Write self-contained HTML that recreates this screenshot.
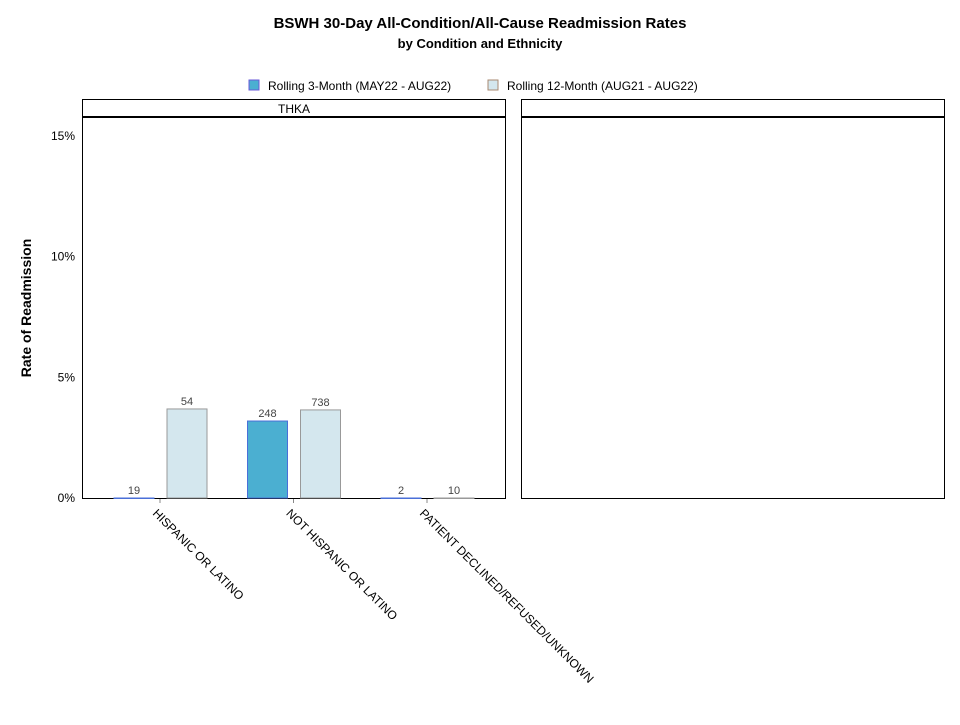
<!DOCTYPE html>
<html><head><meta charset="utf-8"><style>
body{margin:0;background:#fff;font-family:"Liberation Sans",sans-serif}
</style></head><body>
<svg width="960" height="720" viewBox="0 0 960 720" xmlns="http://www.w3.org/2000/svg" font-family="Liberation Sans, sans-serif">
<text x="480" y="28" text-anchor="middle" font-size="15" font-weight="bold">BSWH 30-Day All-Condition/All-Cause Readmission Rates</text>
<text x="480" y="48" text-anchor="middle" font-size="13" font-weight="bold">by Condition and Ethnicity</text>
<g font-size="12">
<rect x="249" y="80" width="10" height="10" fill="#4bafd1" stroke="#6a5ad8"/>
<text x="268" y="90">Rolling 3-Month  (MAY22 - AUG22)</text>
<rect x="488" y="80" width="10" height="10" fill="#d4e7ee" stroke="#a88a72"/>
<text x="507" y="90">Rolling 12-Month (AUG21 - AUG22)</text>
</g>
<text transform="translate(31,308) rotate(-90)" text-anchor="middle" font-size="14" font-weight="bold">Rate of Readmission</text>
<g>
<rect x="82.5" y="99.5" width="423" height="18" fill="#fff" stroke="#000"/>
<text x="294" y="113" text-anchor="middle" font-size="12">THKA</text>
<rect x="82.5" y="117" width="423" height="381.5" fill="none" stroke="#000"/>
<line x1="82" y1="117" x2="506" y2="117" stroke="#000" stroke-width="2"/>
</g>
<g>
<rect x="521.5" y="99.5" width="423" height="18" fill="#fff" stroke="#000"/>
<rect x="521.5" y="117" width="423" height="381.5" fill="none" stroke="#000"/>
<line x1="521" y1="117" x2="945" y2="117" stroke="#000" stroke-width="2"/>
</g>
<g id="ticks"></g>
<g id="bars"></g>
<g id="xlabels"></g>
</svg>
<script>
const categories=["HISPANIC OR LATINO","NOT HISPANIC OR LATINO","PATIENT DECLINED/REFUSED/UNKNOWN"];
const rate3=[0.0,3.19,0.0];
const rate12=[3.69,3.65,0.0];
const count3=["19","248","2"];
const count12=["54","738","10"];
const yTicks=[0,5,10,15];
const NS="http://www.w3.org/2000/svg";
const y0=498,pxPerPct=24.13;
function y(v){return y0-v*pxPerPct;}
function xc(i){return 160+i*133.5;}
function mk(t,a,p){const e=document.createElementNS(NS,t);for(const k in a)e.setAttribute(k,a[k]);p.appendChild(e);return e;}
const tg=document.getElementById('ticks'),bg=document.getElementById('bars'),xg=document.getElementById('xlabels');
yTicks.forEach(v=>{
 const t=mk('text',{x:75,y:y(v)+4,'text-anchor':'end','font-size':12},tg);t.textContent=v+'%';
 
 
});
categories.forEach((c,i)=>{
 const cx=xc(i);
 const b1=mk('rect',{x:cx-46,y:y(rate3[i]),width:40,height:Math.max(rate3[i]*pxPerPct,0.5),fill:'#4bafd1',stroke:'#4a6fd8'},bg);
 
 
 const l1=mk('text',{x:cx-26,y:y(rate3[i])-4,'text-anchor':'middle','font-size':11,fill:'#444'},bg);l1.textContent=count3[i];
 
 
 const b2=mk('rect',{x:cx+7,y:y(rate12[i]),width:40,height:Math.max(rate12[i]*pxPerPct,0.5),fill:'#d4e7ee',stroke:'#999'},bg);
 
 
 const l2=mk('text',{x:cx+27,y:y(rate12[i])-4,'text-anchor':'middle','font-size':11,fill:'#444'},bg);l2.textContent=count12[i];
 
 
 const tk=mk('line',{x1:cx,y1:499,x2:cx,y2:503,stroke:'#888'},xg);
 
 
 const xl=mk('text',{transform:`translate(${cx-8},${514}) rotate(45)`,'font-size':12},xg);xl.textContent=c;
 
 
});
</script>
</body></html>
